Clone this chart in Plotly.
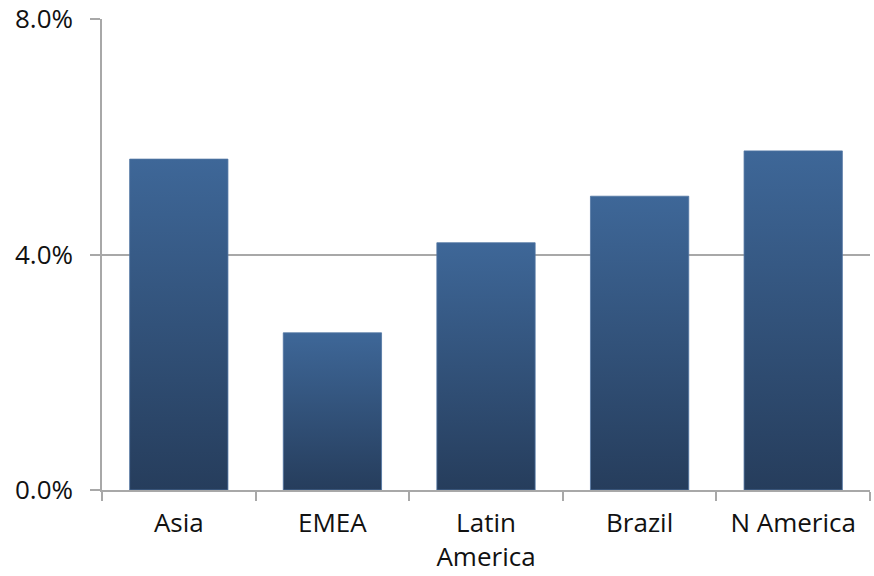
import plotly.graph_objects as go

categories = ["Asia", "EMEA", "Latin<br>America", "Brazil", "N America"]
values = [0.0562, 0.0267, 0.0420, 0.0499, 0.0576]
y_ticks = [0.0, 0.04, 0.08]

BAR_W = 0.64
TOP_C = "#3e6798"
BOT_C = "#263d5c"
GRID_C = "#a8a8a8"
FONT = dict(family="Open Sans, sans-serif", size=26, color="#111111")

fig = go.Figure()
for i, (cat, v) in enumerate(zip(categories, values)):
    x0, x1 = i - BAR_W / 2, i + BAR_W / 2
    fig.add_trace(go.Scatter(
        x=[x0, x0, x1, x1, x0],
        y=[0, v, v, 0, 0],
        mode="lines",
        fill="toself",
        line=dict(color="#5276a3", width=0.8),
        fillgradient=dict(type="vertical",
                          colorscale=[[0, BOT_C], [1, TOP_C]]),
        name=cat.replace("<br>", " "),
        hoverinfo="skip",
        showlegend=False,
    ))
# invisible markers for hover values
fig.add_trace(go.Scatter(
    x=list(range(len(categories))), y=values, mode="markers",
    marker=dict(size=1, opacity=0), showlegend=False,
    text=[c.replace("<br>", " ") for c in categories],
    hovertemplate="%{text}: %{y:.1%}<extra></extra>",
))

fig.update_layout(
    width=874, height=576,
    margin=dict(l=102, r=4, t=19, b=86),
    paper_bgcolor="white", plot_bgcolor="white",
    font=FONT,
    showlegend=False,
)
fig.update_xaxes(
    range=[-0.5, len(categories) - 0.5],
    tickmode="array",
    tickvals=list(range(len(categories))),
    ticktext=categories,
    ticks="", showgrid=False, zeroline=False,
    showline=True, linecolor=GRID_C, linewidth=1.5,
    minor=dict(ticks="outside", ticklen=9, tickcolor=GRID_C, tickwidth=1.5,
               tick0=-0.5, dtick=1, showgrid=False),
    tickfont=FONT,
    ticklabelstandoff=9,
    automargin=False,
    fixedrange=True,
)
fig.update_yaxes(
    range=[0, 0.08],
    tickmode="array", tickvals=y_ticks, tickformat=".1%",
    ticks="outside", ticklen=10, tickcolor=GRID_C, tickwidth=1.5,
    showgrid=True, gridcolor=GRID_C, gridwidth=1.5,
    zeroline=False,
    showline=True, linecolor=GRID_C, linewidth=1.5,
    tickfont=FONT,
    ticklabelstandoff=12,
    automargin=False,
    fixedrange=True,
)

fig.write_html("out.html")
